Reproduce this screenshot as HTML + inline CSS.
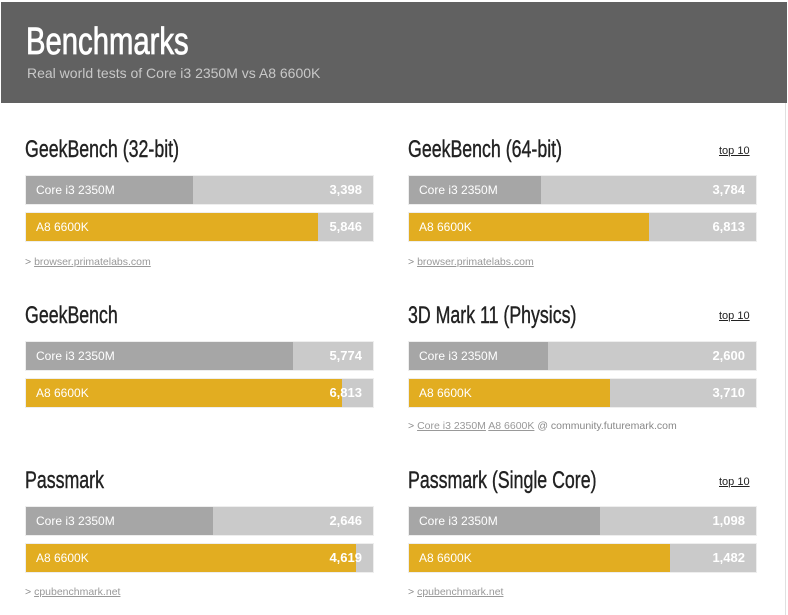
<!DOCTYPE html>
<html><head><style>
body{margin:0;width:788px;height:615px;background:#fff;position:relative;overflow:hidden;font-family:"Liberation Sans",sans-serif}
#hdr{position:absolute;left:1px;top:2px;width:786px;height:101px;background:#616161}
#hdr h1{position:absolute;left:25px;top:19px;margin:0;font-weight:normal;font-size:38px;color:#fff;transform:scaleX(0.77);transform-origin:left top;white-space:nowrap;-webkit-text-stroke:0.8px #fff}
#hdr p{position:absolute;left:26px;top:63px;margin:0;font-size:14px;color:#c8c8c8}
#rb{position:absolute;left:785px;top:103px;width:1px;height:512px;background:#e0e0e0}
.t{position:absolute;font-size:24px;color:#222;margin:0;line-height:26px;transform:scaleX(0.74);transform-origin:left top;white-space:nowrap;-webkit-text-stroke:0.4px #222}
.top{position:absolute;font-size:11px;color:#222;text-decoration:underline}
.bar{position:absolute;width:347px;height:28px;background:#cacaca;border:1px solid #eee}
.bar .f{position:absolute;left:0;top:0;height:28px}
.bar .l{position:absolute;left:10px;top:7px;font-size:12px;color:#fff}
.bar .v{position:absolute;right:11px;top:6px;font-size:13px;font-weight:bold;color:#fff}
.src{position:absolute;font-size:10.5px;color:#888}
.src u{color:#999}
</style></head><body>
<div id="hdr"><h1>Benchmarks</h1><p>Real world tests of Core i3 2350M vs A8 6600K</p></div>
<div id="rb"></div>

<div class="t" style="left:25px;top:137px">GeekBench (32-bit)</div>
<div class="bar" style="left:25px;top:175px"><div class="f" style="width:167px;background:#a6a6a6"></div><span class="l">Core i3 2350M</span><span class="v">3,398</span></div>
<div class="bar" style="left:25px;top:212px"><div class="f" style="width:292px;background:#e2ad21"></div><span class="l">A8 6600K</span><span class="v">5,846</span></div>
<div class="src" style="left:25px;top:256px">&gt; <u>browser.primatelabs.com</u></div>

<div class="t" style="left:408px;top:137px">GeekBench (64-bit)</div>
<div class="top" style="left:719px;top:145px">top 10</div>
<div class="bar" style="left:408px;top:175px"><div class="f" style="width:132px;background:#a6a6a6"></div><span class="l">Core i3 2350M</span><span class="v">3,784</span></div>
<div class="bar" style="left:408px;top:212px"><div class="f" style="width:240px;background:#e2ad21"></div><span class="l">A8 6600K</span><span class="v">6,813</span></div>
<div class="src" style="left:408px;top:256px">&gt; <u>browser.primatelabs.com</u></div>

<div class="t" style="left:25px;top:303px">GeekBench</div>
<div class="bar" style="left:25px;top:341px"><div class="f" style="width:267px;background:#a6a6a6"></div><span class="l">Core i3 2350M</span><span class="v">5,774</span></div>
<div class="bar" style="left:25px;top:378px"><div class="f" style="width:316px;background:#e2ad21"></div><span class="l">A8 6600K</span><span class="v">6,813</span></div>

<div class="t" style="left:408px;top:303px">3D Mark 11 (Physics)</div>
<div class="top" style="left:719px;top:310px">top 10</div>
<div class="bar" style="left:408px;top:341px"><div class="f" style="width:139px;background:#a6a6a6"></div><span class="l">Core i3 2350M</span><span class="v">2,600</span></div>
<div class="bar" style="left:408px;top:378px"><div class="f" style="width:201px;background:#e2ad21"></div><span class="l">A8 6600K</span><span class="v">3,710</span></div>
<div class="src" style="left:408px;top:420px">&gt; <u>Core i3 2350M</u> <u>A8 6600K</u> @ community.futuremark.com</div>

<div class="t" style="left:25px;top:468px">Passmark</div>
<div class="bar" style="left:25px;top:506px"><div class="f" style="width:187px;background:#a6a6a6"></div><span class="l">Core i3 2350M</span><span class="v">2,646</span></div>
<div class="bar" style="left:25px;top:543px"><div class="f" style="width:330px;background:#e2ad21"></div><span class="l">A8 6600K</span><span class="v">4,619</span></div>
<div class="src" style="left:25px;top:586px">&gt; <u>cpubenchmark.net</u></div>

<div class="t" style="left:408px;top:468px">Passmark (Single Core)</div>
<div class="top" style="left:719px;top:476px">top 10</div>
<div class="bar" style="left:408px;top:506px"><div class="f" style="width:191px;background:#a6a6a6"></div><span class="l">Core i3 2350M</span><span class="v">1,098</span></div>
<div class="bar" style="left:408px;top:543px"><div class="f" style="width:261px;background:#e2ad21"></div><span class="l">A8 6600K</span><span class="v">1,482</span></div>
<div class="src" style="left:408px;top:586px">&gt; <u>cpubenchmark.net</u></div>
</body></html>
